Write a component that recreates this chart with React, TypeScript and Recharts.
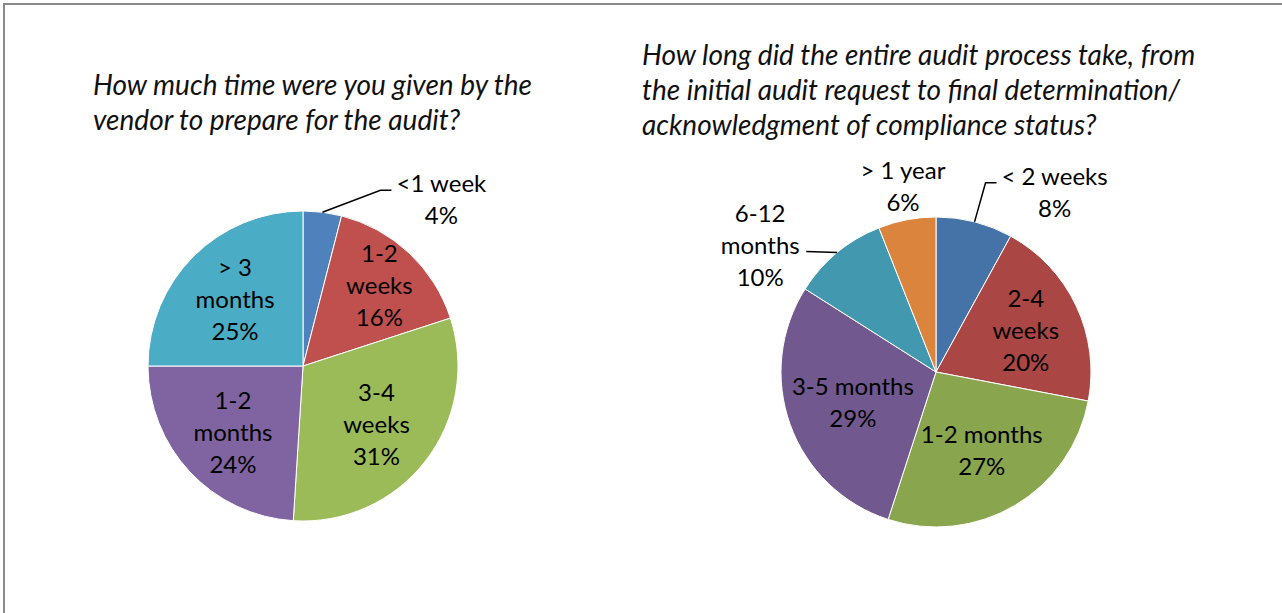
import React from 'react'
import { PieChart, Pie, Cell } from 'recharts'

const LEFT_NAMES = ['<1 week', '1-2\nweeks', '3-4\nweeks', '1-2\nmonths', '> 3\nmonths']
const LEFT_VALUES = [4, 16, 31, 24, 25]
const RIGHT_NAMES = ['< 2 weeks', '2-4\nweeks', '1-2 months', '3-5 months', '6-12\nmonths', '> 1 year']
const RIGHT_VALUES = [8, 20, 27, 29, 10, 6]

const LEFT_TITLE = ['How much time were you given by the', 'vendor to prepare for the audit?']
const RIGHT_TITLE = [
  'How long did the entire audit process take, from',
  'the initial audit request to final determination/',
  'acknowledgment of compliance status?',
]

const LEFT_COLORS = ['#4F81BD', '#C0504D', '#9BBB59', '#8064A2', '#4BACC6']
const RIGHT_COLORS = ['#4572A7', '#AA4643', '#89A54E', '#71588F', '#4198AF', '#DB843D']

type Layout = { r?: number; dx?: number; dy?: number; line?: [number, number][] }

// label placement: r = fraction of radius (inside), or offset from the slice edge (outside)
const LEFT_LAYOUT: Layout[] = [
  { dx: 119, dy: -14, line: [[0, 0], [58, -22], [69, -22]] },
  { r: 0.72 },
  { r: 0.6 },
  { r: 0.62 },
  { r: 0.62 },
]
const RIGHT_LAYOUT: Layout[] = [
  { dx: 80, dy: -30, line: [[0, 0], [11, -39], [22, -39]] },
  { r: 0.64 },
  { r: 0.58 },
  { r: 0.57 },
  { dx: -77, dy: -8, line: [[0, 0], [-31, -1]] },
  { dx: -4, dy: -34 },
]

const FONT = 'Lato, "Open Sans", sans-serif'
const LINE_H = 32
const RAD = Math.PI / 180

const makeData = (names: string[], values: number[]) =>
  names.map((name, i) => ({ name, value: values[i] }))

const leftData = makeData(LEFT_NAMES, LEFT_VALUES)
const rightData = makeData(RIGHT_NAMES, RIGHT_VALUES)

function makeLabel(layout: Layout[]) {
  return (props: any) => {
    const { cx, cy, midAngle, outerRadius, index, name, value } = props
    const cfg = layout[index] || { r: 0.62 }
    const cos = Math.cos(-midAngle * RAD)
    const sin = Math.sin(-midAngle * RAD)
    let x: number
    let y: number
    let path: string | null = null
    if (cfg.r != null) {
      x = cx + outerRadius * cfg.r * cos
      y = cy + outerRadius * cfg.r * sin
    } else {
      const ex = cx + outerRadius * cos
      const ey = cy + outerRadius * sin
      x = ex + (cfg.dx || 0)
      y = ey + (cfg.dy || 0)
      if (cfg.line) {
        path = cfg.line.map(([px, py], i) => `${i ? 'L' : 'M'}${ex + px},${ey + py}`).join(' ')
      }
    }
    const lines = [...String(name).split('\n'), `${value}%`]
    const top = y - ((lines.length - 1) * LINE_H) / 2
    return (
      <g key={`lbl-${index}`}>
        {path && <path d={path} stroke="#000" strokeWidth={1.5} fill="none" />}
        <text textAnchor="middle" fontFamily={FONT} fontSize={24} fill="#000">
          {lines.map((t, i) => (
            <tspan key={i} x={x} y={top + i * LINE_H} dominantBaseline="central">
              {t}
            </tspan>
          ))}
        </text>
      </g>
    )
  }
}

const titleStyle: React.CSSProperties = {
  position: 'absolute',
  fontFamily: FONT,
  fontStyle: 'italic',
  fontSize: 28,
  lineHeight: '35px',
  color: '#111',
  whiteSpace: 'nowrap',
}

export default function App() {
  return (
    <div style={{ position: 'absolute', left: 0, top: 0, width: 1282, height: 613, overflow: 'hidden', background: '#fff' }}>
      <div
        style={{
          position: 'absolute',
          left: 3,
          top: 3,
          width: 1320,
          height: 660,
          borderTop: '2px solid #8a8a8a',
          borderLeft: '2px solid #8a8a8a',
        }}
      />
      <div style={{ ...titleStyle, left: 93, top: 67 }}>
        {LEFT_TITLE.map((t) => (
          <div key={t}>{t}</div>
        ))}
      </div>
      <div style={{ ...titleStyle, left: 642, top: 37 }}>
        {RIGHT_TITLE.map((t) => (
          <div key={t}>{t}</div>
        ))}
      </div>
      <div style={{ position: 'absolute', left: 0, top: 0 }}>
        <PieChart width={1282} height={613} margin={{ top: 0, right: 0, bottom: 0, left: 0 }}>
          <Pie
            data={leftData}
            dataKey="value"
            nameKey="name"
            cx={303}
            cy={366}
            outerRadius={155}
            startAngle={90}
            endAngle={-270}
            stroke="#fff"
            strokeWidth={1}
            labelLine={false}
            label={makeLabel(LEFT_LAYOUT)}
            isAnimationActive={false}
          >
            {leftData.map((d, i) => (
              <Cell key={d.name} fill={LEFT_COLORS[i]} />
            ))}
          </Pie>
          <Pie
            data={rightData}
            dataKey="value"
            nameKey="name"
            cx={936}
            cy={372}
            outerRadius={155}
            startAngle={90}
            endAngle={-270}
            stroke="#fff"
            strokeWidth={1}
            labelLine={false}
            label={makeLabel(RIGHT_LAYOUT)}
            isAnimationActive={false}
          >
            {rightData.map((d, i) => (
              <Cell key={d.name} fill={RIGHT_COLORS[i]} />
            ))}
          </Pie>
        </PieChart>
      </div>
    </div>
  )
}
